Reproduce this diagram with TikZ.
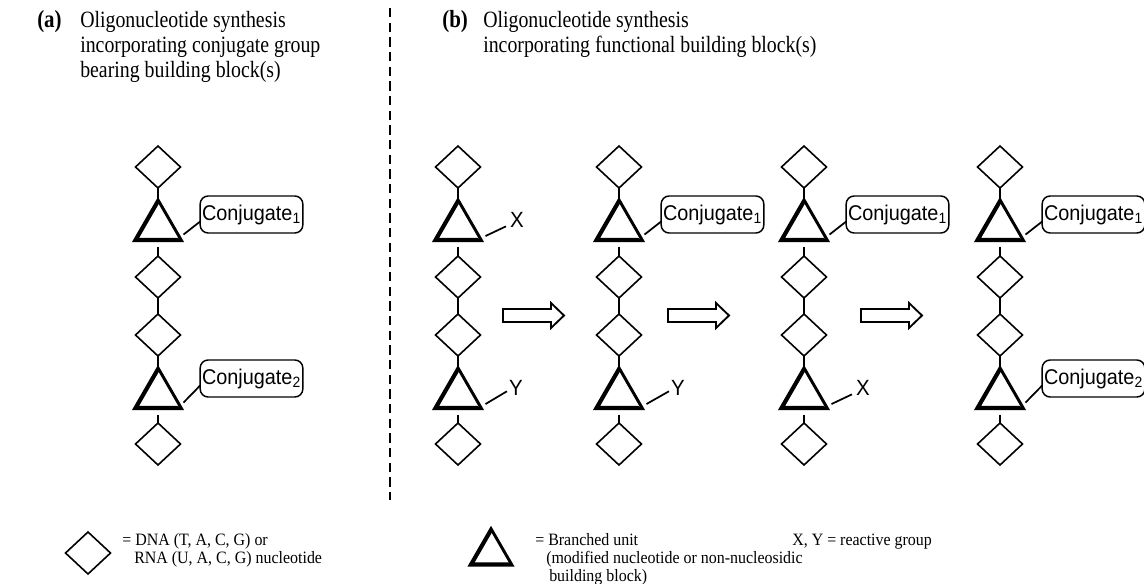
\documentclass[tikz,border=0pt]{standalone}
\usepackage{fontspec}
\setmainfont{Liberation Serif}
\newfontfamily\headfont{Liberation Serif}[FakeStretch=0.85]
\newfontfamily\keyfont{Liberation Serif}[FakeStretch=0.92]
\newfontfamily\sansfam{Liberation Sans}[FakeStretch=0.93]
\usetikzlibrary{shapes.geometric}

\tikzset{
  unit/.style={draw, diamond, inner sep=0pt, outer sep=0pt,
    minimum width=33.75pt, minimum height=31.5pt, line width=1.2pt},
  branch/.style={draw, regular polygon, regular polygon sides=3,
    inner sep=0pt, outer sep=0pt, minimum size=40.7pt, line width=2.2pt},
  heavy/.style={line width=1.6pt, line join=miter},
  link/.style={line width=1.3pt},
  conj/.style={draw, rounded corners=6pt, inner sep=0pt, outer sep=0pt,
    minimum width=77pt, minimum height=27.75pt, line width=1.1pt,
    font=\sansfam\fontsize{16}{19}\selectfont},
  grp/.style={inner sep=0pt, font=\sansfam\fontsize{16.5}{19}\selectfont},
  title/.style={anchor=base west, inner sep=0pt, font=\headfont\fontsize{17.5}{21}\selectfont},
  legend/.style={anchor=base west, inner sep=0pt, font=\keyfont\fontsize{13}{16}\selectfont},
  divider/.style={line width=1.1pt, dash pattern=on 7pt off 4pt},
  reaction/.pic={
    \draw[line width=1.4pt, line join=miter]
      (0,-6.5) -- (48,-6.5) -- (48,-12.5) -- (61,0) -- (48,12.5)
      -- (48,6.5) -- (0,6.5) -- cycle;
  }
}
% heavier left and bottom edges of a branched-unit triangle
\newcommand{\heavyedges}[1]{%
  \draw[heavy] ([yshift=-2.4pt]#1.corner 1) -- ([shift={(2.08pt,1.2pt)}]#1.corner 2)
    -- ([shift={(-2.08pt,1.2pt)}]#1.corner 3);}

\begin{document}
\begin{tikzpicture}[x=0.75pt, y=-0.75pt]
\useasboundingbox (0,0) rectangle (1144,584);

% headings
\node[title, font=\headfont\bfseries\fontsize{18.5}{21}\selectfont] (alab) at (37,28) {(a)};
\node[title] (ah1) at (80,28) {Oligonucleotide synthesis};
\node[title] (ah2) at (80,53) {incorporating conjugate group};
\node[title] (ah3) at (80,78) {bearing building block(s)};
\node[title, font=\headfont\bfseries\fontsize{18.5}{21}\selectfont] (blab) at (442,28) {(b)};
\node[title] (bh1) at (483,28) {Oligonucleotide synthesis};
\node[title] (bh2) at (483,53) {incorporating functional building block(s)};

% separator between the two schemes
\coordinate (divtop) at (390,8);
\coordinate (divbot) at (390,500);
\draw[divider] (divtop) -- (divbot);

% oligonucleotide chains
\foreach \c/\x in {a/158, p/458, q/619, r/804, s/1000} {
  \node[unit]   (\c d1) at (\x,167) {};
  \node[branch] (\c t1) at (\x,227) {};
  \node[unit]   (\c d2) at (\x,277) {};
  \node[unit]   (\c d3) at (\x,335) {};
  \node[branch] (\c t2) at (\x,395) {};
  \node[unit]   (\c d4) at (\x,444) {};
  \heavyedges{\c t1}
  \heavyedges{\c t2}
  \draw[link] (\c d1.south) -- (\c t1.corner 1);
  \draw[link] ([yshift=-4.5pt]\c t1.south) -- (\c d2.north);
  \draw[link] (\c d2.south) -- (\c d3.north);
  \draw[link] (\c d3.south) -- (\c t2.corner 1);
  \draw[link] ([yshift=-4.5pt]\c t2.south) -- (\c d4.north);
}

% conjugate groups
\node[conj] (ac1) at (251.5,214.5) {Conjugate\textsubscript{1}};
\node[conj] (ac2) at (251.5,378.5) {Conjugate\textsubscript{2}};
\node[conj] (qc1) at (712.5,214.5) {Conjugate\textsubscript{1}};
\node[conj] (rc1) at (897.5,214.5) {Conjugate\textsubscript{1}};
\node[conj] (sc1) at (1093.5,214.5) {Conjugate\textsubscript{1}};
\node[conj] (sc2) at (1093.5,378.5) {Conjugate\textsubscript{2}};

\draw[link] ([shift={(1.5pt,4.5pt)}]at1.corner 3) -- ([yshift=-5.25pt]ac1.west);
\draw[link] ([shift={(1.5pt,4.5pt)}]at2.corner 3) -- ([yshift=-5.25pt]ac2.west);
\draw[link] ([shift={(1.5pt,4.5pt)}]qt1.corner 3) -- ([yshift=-5.25pt]qc1.west);
\draw[link] ([shift={(1.5pt,4.5pt)}]rt1.corner 3) -- ([yshift=-5.25pt]rc1.west);
\draw[link] ([shift={(1.5pt,4.5pt)}]st1.corner 3) -- ([yshift=-5.25pt]sc1.west);
\draw[link] ([shift={(1.5pt,4.5pt)}]st2.corner 3) -- ([yshift=-5.25pt]sc2.west);

% reactive groups
\node[grp] (px) at (517,220) {X};
\node[grp] (py) at (516,388) {Y};
\node[grp] (qy) at (678,388) {Y};
\node[grp] (rx) at (863,388) {X};

\draw[link] ([shift={(3pt,3.4pt)}]pt1.corner 3) -- ([shift={(-3pt,1.1pt)}]px.south west);
\draw[link] ([shift={(3pt,3.4pt)}]pt2.corner 3) -- ([shift={(-1.5pt,3.4pt)}]py.south west);
\draw[link] ([shift={(3pt,3.4pt)}]qt2.corner 3) -- ([shift={(-1.5pt,3.4pt)}]qy.south west);
\draw[link] ([shift={(3pt,3.4pt)}]rt2.corner 3) -- ([shift={(-3pt,1.1pt)}]rx.south west);

% reaction arrows
\pic at (503,315.5) {reaction};
\pic at (668,315.5) {reaction};
\pic at (861,315.5) {reaction};

% legend
\node[unit] (kd) at (88,553) {};
\node[legend] (kd1) at (122,545) {= DNA (T, A, C, G) or};
\node[legend] (kd2) at (134,563) {RNA (U, A, C, G) nucleotide};
\node[branch, minimum size=36.4pt] (kt) at (491,553) {};
\heavyedges{kt}
\node[legend] (kt1) at (535,545) {= Branched unit};
\node[legend] (kt2) at (546,563) {(modified nucleotide or non-nucleosidic};
\node[legend] (kt3) at (549,581) {building block)};
\node[legend] (kx) at (792,545) {X, Y = reactive group};
\end{tikzpicture}
\end{document}
